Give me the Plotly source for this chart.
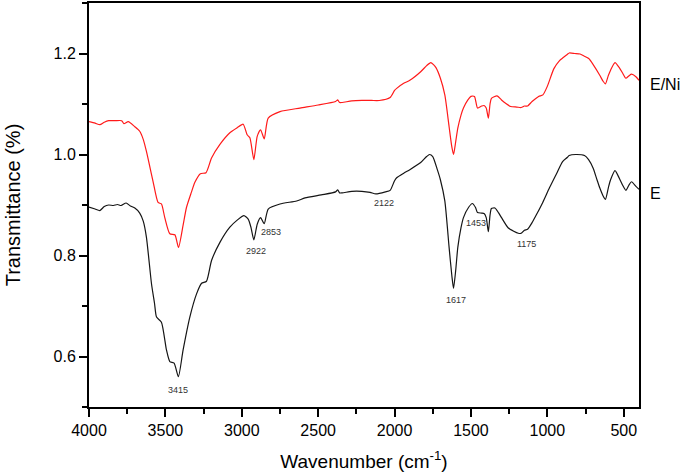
import plotly.graph_objects as go

# Sample E (black)
wn_E = [4000, 3960, 3929, 3900, 3871, 3840, 3814, 3790, 3757, 3729, 3700, 3668, 3645, 3624, 3591, 3571,
        3558, 3526, 3493, 3471, 3443, 3415, 3384, 3340, 3296, 3263, 3231, 3198, 3143, 3078, 3030, 2986,
        2958, 2940, 2921, 2899, 2877, 2853, 2827, 2750, 2641, 2586, 2480, 2386, 2372, 2360, 2343, 2280,
        2214, 2160, 2122, 2060, 2029, 2000, 1986, 1940, 1900, 1829, 1790, 1771, 1750, 1720, 1700, 1671,
        1643, 1625, 1614, 1600, 1586, 1565, 1549, 1514, 1491, 1470, 1457, 1430, 1414, 1400, 1386, 1375,
        1366, 1343, 1320, 1300, 1257, 1220, 1190, 1171, 1150, 1129, 1100, 1071, 1030, 986, 940, 900,
        870, 857, 814, 757, 730, 700, 675, 657, 635, 620, 600, 586, 557, 529, 505, 486, 465, 449, 420, 400]
T_E = [0.896, 0.892, 0.889, 0.897, 0.900, 0.899, 0.901, 0.899, 0.904, 0.898, 0.894, 0.884, 0.868, 0.836, 0.744, 0.705,
       0.678, 0.668, 0.613, 0.590, 0.587, 0.560, 0.613, 0.678, 0.724, 0.745, 0.749, 0.790, 0.826, 0.856, 0.870, 0.879,
       0.872, 0.856, 0.831, 0.862, 0.875, 0.863, 0.892, 0.902, 0.908, 0.914, 0.920, 0.926, 0.930, 0.924, 0.924, 0.927,
       0.927, 0.925, 0.922, 0.926, 0.929, 0.948, 0.954, 0.963, 0.970, 0.984, 0.996, 1.000, 0.996, 0.970, 0.950, 0.908,
       0.816, 0.760, 0.735, 0.770, 0.816, 0.855, 0.875, 0.896, 0.903, 0.895, 0.885, 0.884, 0.883, 0.875, 0.847, 0.880,
       0.893, 0.894, 0.885, 0.875, 0.855, 0.848, 0.844, 0.844, 0.850, 0.852, 0.865, 0.881, 0.905, 0.934, 0.962, 0.986,
       0.994, 0.998, 1.000, 0.998, 0.990, 0.973, 0.950, 0.934, 0.918, 0.911, 0.935, 0.950, 0.968, 0.953, 0.938, 0.929,
       0.940, 0.946, 0.937, 0.931]

# Sample E/Ni (red)
wn_ENi = [4000, 3960, 3929, 3900, 3871, 3830, 3786, 3771, 3743, 3700, 3668, 3645, 3624, 3581, 3548, 3526,
          3504, 3471, 3438, 3414, 3384, 3362, 3330, 3307, 3271, 3234, 3198, 3143, 3078, 3030, 2991, 2965,
          2947, 2921, 2899, 2877, 2853, 2827, 2750, 2619, 2500, 2386, 2372, 2360, 2343, 2280, 2214, 2150,
          2100, 2029, 2000, 1986, 1940, 1900, 1829, 1790, 1763, 1745, 1729, 1700, 1671, 1643, 1625, 1614,
          1600, 1586, 1565, 1549, 1520, 1500, 1477, 1457, 1430, 1414, 1400, 1386, 1375, 1366, 1329, 1300,
          1271, 1240, 1200, 1171, 1150, 1129, 1100, 1057, 1029, 1000, 957, 920, 900, 870, 857, 820,
          786, 760, 729, 700, 657, 635, 620, 600, 586, 557, 529, 505, 486, 465, 449, 420, 400]
T_ENi = [1.065, 1.062, 1.059, 1.064, 1.067, 1.067, 1.067, 1.061, 1.065, 1.055, 1.046, 1.030, 1.006, 0.947, 0.905, 0.902,
         0.875, 0.843, 0.841, 0.816, 0.860, 0.895, 0.925, 0.945, 0.962, 0.964, 0.993, 1.020, 1.043, 1.053, 1.060, 1.039,
         1.033, 0.990, 1.036, 1.049, 1.031, 1.072, 1.085, 1.092, 1.098, 1.105, 1.108, 1.103, 1.103, 1.106, 1.107, 1.107,
         1.107, 1.113, 1.127, 1.131, 1.141, 1.147, 1.164, 1.176, 1.182, 1.178, 1.172, 1.151, 1.118, 1.055, 1.015, 1.000,
         1.025, 1.052, 1.078, 1.092, 1.108, 1.115, 1.115, 1.092, 1.096, 1.097, 1.092, 1.072, 1.100, 1.111, 1.116, 1.108,
         1.101, 1.095, 1.094, 1.093, 1.096, 1.096, 1.105, 1.115, 1.118, 1.135, 1.170, 1.186, 1.191, 1.198, 1.201, 1.200,
         1.199, 1.195, 1.190, 1.178, 1.157, 1.145, 1.140, 1.157, 1.167, 1.182, 1.172, 1.160, 1.151, 1.156, 1.159, 1.154,
         1.147]

# Peak labels (text, position in data coordinates)
peak_text = ["3415", "2922", "2853", "2122", "1617", "1453", "1175"]
peak_x = [3417, 2908, 2811, 2067, 1597, 1468, 1138]
peak_y = [0.534, 0.808, 0.847, 0.904, 0.711, 0.865, 0.823]

series_names = ["E/Ni", "E"]
series_label_y = [1.138, 0.922]

x_ticks = [4000, 3500, 3000, 2500, 2000, 1500, 1000, 500]
y_ticks = [0.6, 0.8, 1.0, 1.2]

FONT = "Liberation Sans, Arial, sans-serif"

fig = go.Figure()
fig.add_trace(go.Scatter(x=wn_E, y=T_E, mode="lines",
                         line=dict(color="#151515", width=1.2, shape="spline", smoothing=0.6),
                         name="E", showlegend=False))
fig.add_trace(go.Scatter(x=wn_ENi, y=T_ENi, mode="lines",
                         line=dict(color="#ff1a1a", width=1.2, shape="spline", smoothing=0.6),
                         name="E/Ni", showlegend=False))

annotations = []
for t, x, y in zip(peak_text, peak_x, peak_y):
    annotations.append(dict(x=x, y=y, xref="x", yref="y", text=t, showarrow=False,
                            font=dict(family=FONT, size=9, color="#333333"),
                            xanchor="center", yanchor="middle"))
for name, y in zip(series_names, series_label_y):
    annotations.append(dict(x=1.016, y=y, xref="paper", yref="y", text=name, showarrow=False,
                            font=dict(family=FONT, size=16, color="#000000"),
                            xanchor="left", yanchor="middle"))

axis_common = dict(showline=True, linecolor="black", linewidth=2, mirror=True,
                   ticks="outside", ticklen=8, tickwidth=1.5, tickcolor="black",
                   showgrid=False, zeroline=False,
                   tickfont=dict(family=FONT, size=16, color="black"))

fig.update_layout(
    width=684, height=474,
    margin=dict(l=89, r=45, t=1, b=67),
    paper_bgcolor="white", plot_bgcolor="white",
    xaxis=dict(range=[4000, 400], tickvals=x_ticks,
               minor=dict(ticks="outside", ticklen=5, tickwidth=1.5, tickcolor="black", dtick=250),
               title=dict(text="Wavenumber (cm<sup>-1</sup>)", font=dict(family=FONT, size=19, color="black"),
                          standoff=16),
               **axis_common),
    yaxis=dict(range=[0.5, 1.3], tickvals=y_ticks, tickformat=".1f",
               minor=dict(ticks="outside", ticklen=5, tickwidth=1.5, tickcolor="black", dtick=0.1),
               title=dict(text="Transmittance (%)", font=dict(family=FONT, size=20, color="black"),
                          standoff=28),
               **axis_common),
    annotations=annotations,
)

fig.write_html("out.html")
